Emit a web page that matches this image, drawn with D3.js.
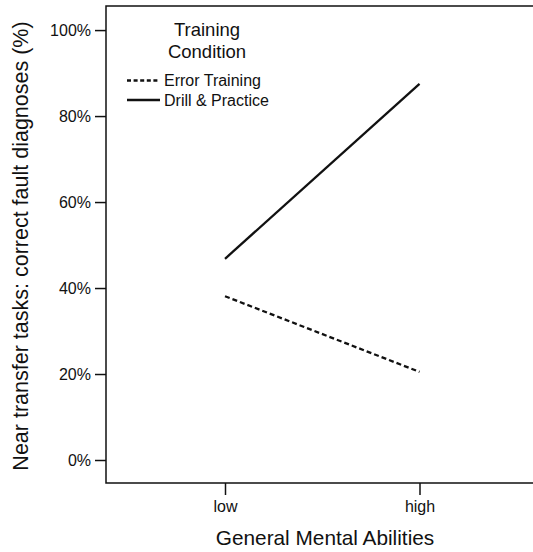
<!DOCTYPE html>
<html><head><meta charset="utf-8">
<script src="https://cdn.jsdelivr.net/npm/d3@7"></script>
<style>body{margin:0;background:#fff}svg{display:block}text{font-family:"Liberation Sans",Arial,sans-serif;fill:#111}</style>
</head><body>
<script>
const categories = ["low", "high"];
const errorTraining = [38.1, 20.5];
const drillPractice = [46.8, 87.5];
const yTicks = [0, 20, 40, 60, 80, 100];
const seriesNames = ["Error Training", "Drill & Practice"];

const W = 533, H = 552;
const svg = d3.select("body").append("svg").attr("width", W).attr("height", H);
const mLeft = 106, mTop = 6, mRight = 533, mBottom = 483;

const y = d3.scaleLinear().domain([-5.35, 105.6]).range([mBottom, mTop]);
const x = d3.scalePoint().domain(categories).range([225, 419.5]);

// frame: top, left and bottom
svg.append("path").attr("d", `M${mRight},${mTop}H${mLeft}V${mBottom}H${mRight}`)
  .attr("fill", "none").attr("stroke", "#111").attr("stroke-width", 1.5);

const yAxis = svg.append("g").attr("transform", `translate(${mLeft},0)`)
  .call(d3.axisLeft(y).tickValues(yTicks).tickFormat(d => d + "%").tickSize(11).tickPadding(4));
const xAxis = svg.append("g").attr("transform", `translate(0,${mBottom})`)
  .call(d3.axisBottom(x).tickSize(12).tickPadding(6));
[yAxis, xAxis].forEach(g => {
  g.select(".domain").remove();
  g.selectAll(".tick line").attr("stroke", "#111").attr("stroke-width", 1.5);
  g.selectAll(".tick text").attr("font-size", 16).attr("fill", "#111")
    .attr("font-family", "'Liberation Sans', Arial, sans-serif");
});

const line = d3.line().x((d, i) => x(categories[i])).y(d => y(d));
svg.append("path").datum(errorTraining).attr("d", line)
  .attr("fill", "none").attr("stroke", "#111").attr("stroke-width", 2.3).attr("stroke-dasharray", "5,3");
svg.append("path").datum(drillPractice).attr("d", line)
  .attr("fill", "none").attr("stroke", "#111").attr("stroke-width", 2.3);

// axis titles
svg.append("text").attr("x", 325).attr("y", 545)
  .attr("text-anchor", "middle").attr("font-size", 20.8).text("General Mental Abilities");
svg.append("text").attr("transform", "translate(28,246) rotate(-90)")
  .attr("text-anchor", "middle").attr("font-size", 21.5).text("Near transfer tasks: correct fault diagnoses (%)");

// legend
const lg = svg.append("g");
lg.append("text").attr("x", 207).attr("y", 36).attr("text-anchor", "middle").attr("font-size", 18.5).text("Training");
lg.append("text").attr("x", 207).attr("y", 57.5).attr("text-anchor", "middle").attr("font-size", 18.5).text("Condition");
seriesNames.forEach((n, i) => {
  const yy = 80.5 + i * 19.5;
  lg.append("line").attr("x1", 127).attr("x2", 160).attr("y1", yy).attr("y2", yy)
    .attr("stroke", "#111").attr("stroke-width", 2.3).attr("stroke-dasharray", i === 0 ? "4,2.6" : null);
  lg.append("text").attr("x", 164).attr("y", yy + 5.5).attr("font-size", 16).text(n);
});
</script>
</body></html>
